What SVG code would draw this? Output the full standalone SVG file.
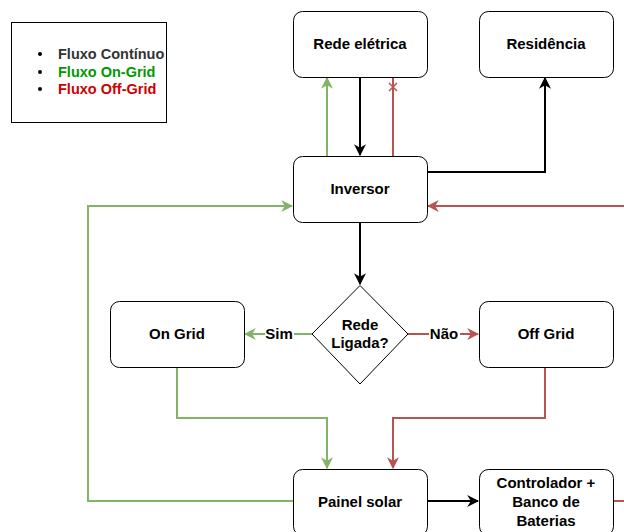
<svg xmlns="http://www.w3.org/2000/svg" width="624" height="532" viewBox="0 0 624 532">
<style>
.n{fill:#fff;stroke:#000;stroke-width:1}
.t{font-family:"Liberation Sans",Arial,sans-serif;font-size:15px;font-weight:bold;fill:#000;text-anchor:middle}
.c{fill:none;stroke-width:2}
.g{stroke:#82b366}
.r{stroke:#b85450}
.k{stroke:#000}
.lt{font-family:"Liberation Sans",Arial,sans-serif;font-size:14.5px;font-weight:bold}
</style>
<defs>
<marker id="ak" viewBox="0 0 10 10" refX="9" refY="5" markerWidth="12" markerHeight="12" orient="auto" markerUnits="userSpaceOnUse"><path d="M0,0 L10,5 L0,10 L3,5 Z" fill="#000"/></marker>
<marker id="ag" viewBox="0 0 10 10" refX="9" refY="5" markerWidth="12" markerHeight="12" orient="auto" markerUnits="userSpaceOnUse"><path d="M0,0 L10,5 L0,10 L3,5 Z" fill="#82b366"/></marker>
<marker id="ar" viewBox="0 0 10 10" refX="9" refY="5" markerWidth="12" markerHeight="12" orient="auto" markerUnits="userSpaceOnUse"><path d="M0,0 L10,5 L0,10 L3,5 Z" fill="#b85450"/></marker>
</defs>
<rect width="624" height="532" fill="#fff"/>
<g id="legend">
<rect x="11.5" y="22.5" width="155" height="100" fill="#fff" stroke="#000"/>
<circle cx="40" cy="54" r="2" fill="#000"/>
<circle cx="40" cy="72" r="2" fill="#000"/>
<circle cx="40" cy="89" r="2" fill="#000"/>
<text class="lt" x="58" y="59" fill="#333333">Fluxo Contínuo</text>
<text class="lt" x="58" y="77" fill="#009900">Fluxo On-Grid</text>
<text class="lt" x="58" y="94" fill="#cc0000">Fluxo Off-Grid</text>
</g>
<g id="connectors">
<path class="c g" d="M327,156 V78" marker-end="url(#ag)"/>
<path class="c k" d="M360,77 V155" marker-end="url(#ak)"/>
<path class="c r" d="M393,156 V77"/>
<path d="M389,83 L397,91 M397,83 L389,91" stroke="#b85450" stroke-width="1.5"/>
<path class="c k" d="M427,172 H545 V78" marker-end="url(#ak)"/>
<path class="c r" d="M624,206 H428" marker-end="url(#ar)"/>
<path class="c g" d="M293,501 H88 V206 H292" marker-end="url(#ag)"/>
<path class="c k" d="M360,222 V284" marker-end="url(#ak)"/>
<path class="c g" d="M312,334 H245" marker-end="url(#ag)"/>
<path class="c r" d="M408,334 H478" marker-end="url(#ar)"/>
<path class="c g" d="M177,367 V418 H327 V468" marker-end="url(#ag)"/>
<path class="c r" d="M545,367 V418 H393 V468" marker-end="url(#ar)"/>
<path class="c k" d="M427,501 H478" marker-end="url(#ak)"/>
<path class="c r" d="M613,501 H624"/>
<rect x="265" y="326" width="29" height="16" fill="#fff"/>
<text class="t" x="279" y="339">Sim</text>
<rect x="429" y="326" width="31" height="16" fill="#fff"/>
<text class="t" x="444" y="339">Não</text>
</g>
<g id="rede"><rect class="n" x="293.5" y="11.5" width="134" height="66" rx="9"/><text class="t" x="360" y="49">Rede elétrica</text></g>
<g id="residencia"><rect class="n" x="479.5" y="11.5" width="134" height="66" rx="9"/><text class="t" x="546" y="49">Residência</text></g>
<g id="inversor"><rect class="n" x="293.5" y="156.5" width="134" height="66" rx="9"/><text class="t" x="360" y="194">Inversor</text></g>
<g id="decisao"><path class="n" d="M360,285.5 L408,334 L360,384 L312,334 Z"/><text class="t" x="360" y="330">Rede</text><text class="t" x="360" y="348">Ligada?</text></g>
<g id="ongrid"><rect class="n" x="110.5" y="301.5" width="134" height="66" rx="9"/><text class="t" x="177" y="339">On Grid</text></g>
<g id="offgrid"><rect class="n" x="479.5" y="301.5" width="134" height="66" rx="9"/><text class="t" x="546" y="339">Off Grid</text></g>
<g id="painel"><rect class="n" x="293.5" y="469.5" width="134" height="66" rx="9"/><text class="t" x="360" y="507">Painel solar</text></g>
<g id="controlador"><rect class="n" x="479.5" y="469.5" width="134" height="66" rx="9"/><text class="t" x="546" y="488">Controlador +</text><text class="t" x="546" y="507">Banco de</text><text class="t" x="546" y="526">Baterias</text></g>
</svg>
